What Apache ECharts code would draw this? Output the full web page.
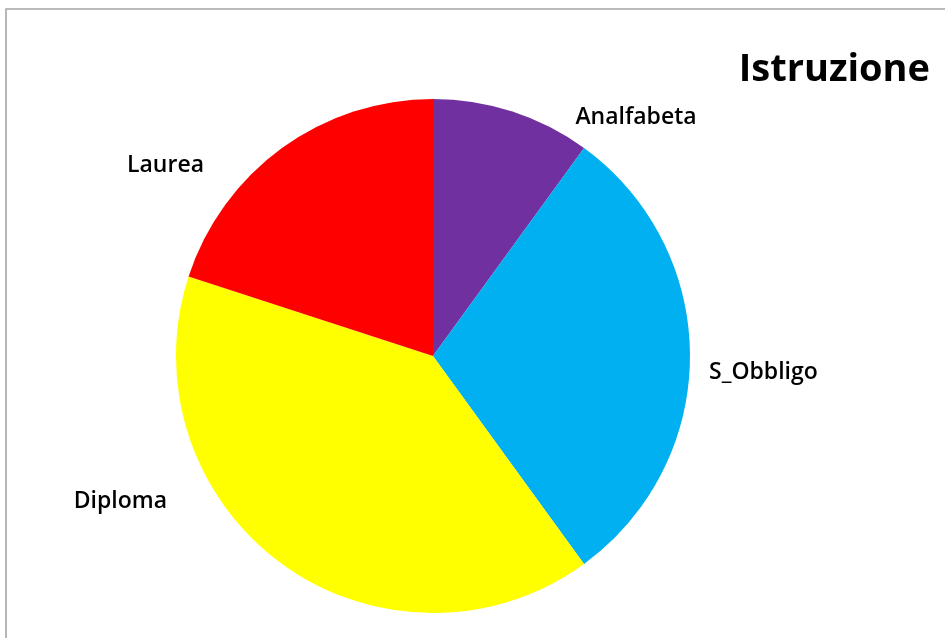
<!DOCTYPE html>
<html>
<head>
<meta charset="utf-8">
<script src="https://cdn.jsdelivr.net/npm/echarts@6/dist/echarts.min.js"></script>
<style>
  html, body { margin: 0; padding: 0; background: #fff; }
  #chart { width: 945px; height: 638px; }
</style>
</head>
<body>
<div id="chart"></div>
<script>
// Education level breakdown
const categories = ['Analfabeta', 'S_Obbligo', 'Diploma', 'Laurea'];
const values = [10, 30, 40, 20];
const colors = ['#7030A0', '#00B0F0', '#FFFF00', '#FF0000'];
const titleText = 'Istruzione';

// Where each category label sits (text anchor point and alignment)
const labelSpots = {
  'Analfabeta': { x: 636, y: 117, align: 'center' },
  'S_Obbligo':  { x: 709, y: 372, align: 'left' },
  'Diploma':    { x: 167, y: 501, align: 'right' },
  'Laurea':     { x: 204, y: 165, align: 'right' }
};

const chart = echarts.init(document.getElementById('chart'), null, { renderer: 'canvas' });

chart.setOption({
  backgroundColor: '#ffffff',
  animation: false,
  title: {
    text: titleText,
    right: 10,
    top: 46,
    textStyle: {
      fontFamily: 'Open Sans',
      fontWeight: 'bold',
      fontSize: 38,
      color: '#000'
    }
  },
  graphic: [{
    type: 'rect',
    shape: { x: 6, y: 9, width: 960, height: 660 },
    style: { fill: 'none', stroke: '#a6a6a6', lineWidth: 1.6 },
    silent: true
  }],
  series: [{
    type: 'pie',
    center: [433, 356],
    radius: 257,
    startAngle: 90,
    clockwise: true,
    label: {
      show: true,
      position: 'outside',
      fontFamily: 'Open Sans',
      fontWeight: 600,
      fontSize: 23,
      color: '#000',
      formatter: '{b}'
    },
    labelLine: { show: false },
    labelLayout: function (params) {
      const spot = labelSpots[categories[params.dataIndex]];
      return { x: spot.x, y: spot.y, align: spot.align, verticalAlign: 'middle' };
    },
    itemStyle: { borderWidth: 0 },
    emphasis: { disabled: true },
    data: categories.map((name, i) => ({
      name: name,
      value: values[i],
      itemStyle: { color: colors[i] }
    }))
  }]
});
</script>
</body>
</html>
